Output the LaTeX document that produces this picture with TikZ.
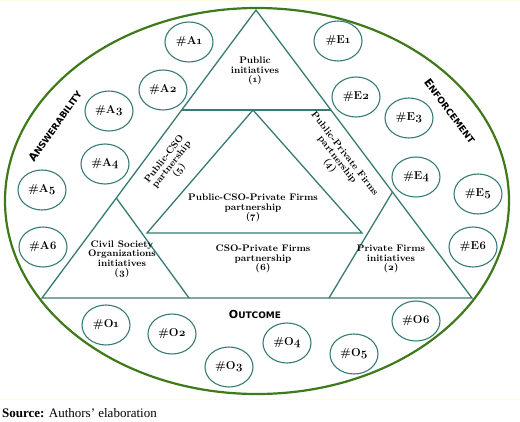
\documentclass[tikz,border=0pt]{standalone}
\usepackage{fontspec}
\setmainfont{Latin Modern Roman}[Numbers=OldStyle]
\newfontfamily\sourcefont{Liberation Serif}
\newfontfamily\dimfont{DejaVu Sans}
\usepackage{tikz}
\definecolor{ringgreen}{RGB}{62,122,26}
\definecolor{tealline}{RGB}{56,122,116}
\definecolor{paleband}{RGB}{255,252,222}
\usetikzlibrary{shapes,arrows,positioning}
\tikzset{item/.style={ellipse, draw=tealline, line width=1.1pt, fill=white, minimum width=48pt, minimum height=40pt, inner sep=0pt,
 font=\fontsize{11.5}{11.5}\selectfont\bfseries}}
\tikzset{region/.style={align=center, inner sep=0pt, font=\fontsize{9.5}{9.3}\selectfont\bfseries}}
\tikzset{dimension/.style={inner sep=0pt, font=\dimfont\bfseries}}
\tikzset{part/.style={draw=tealline, line width=1.3pt}}
\newcommand{\capfirst}[1]{{\fontsize{11}{11}\selectfont #1}}
\newcommand{\caprest}[1]{{\fontsize{9}{9}\selectfont #1}}

\begin{document}
\begin{tikzpicture}[x=1pt,y=-1pt]
        \useasboundingbox (0,0) rectangle (520,421);
        \fill[white] (0,0) rectangle (520,421);
        \draw[paleband, line width=1pt] (0,0.5) -- (520,0.5);
        \draw[paleband, line width=1pt] (0,399) -- (520,399);

        % outer ring
        \draw[ringgreen, line width=2.2pt] (257,201) ellipse [x radius=252, y radius=193];

        % triangle and its parts
        \coordinate (top) at (256,10);
        \coordinate (left) at (42,298);
        \coordinate (right) at (472,298);
        \coordinate (cutL) at (181.7,110);
        \coordinate (cutR) at (331,110);
        \coordinate (apexL) at (116.3,198);
        \coordinate (baseL) at (189,298);
        \coordinate (apexR) at (392.5,192);
        \coordinate (baseR) at (329,298);
        \coordinate (in1) at (253,110);
        \coordinate (in2) at (147,233);
        \coordinate (in3) at (362,233);

        \path[part] (top) -- (left) -- (right) -- cycle;
        \path[part] (cutL) -- (cutR);
        \path[part] (apexL) -- (baseL);
        \path[part] (apexR) -- (baseR);
        \path[part] (in1) -- (in2) -- (in3) -- cycle;

        \node[region] (pub) at (255,71) {Public\\initiatives\\(1)};
        \node[region, rotate=52] (pubcso) at (172,165) {Public-CSO\\partnership\\(5)};
        \node[region, rotate=-52] (pubpriv) at (337,160) {Public-Private Firms\\partnership\\(4)};
        \node[region] (all) at (253,208) {Public-CSO-Private Firms\\partnership\\(7)};
        \node[region] (csopriv) at (263,259) {CSO-Private Firms\\partnership\\(6)};
        \node[region] (cso) at (122,259.5) {Civil Society\\Organizations\\initiatives\\(3)};
        \node[region] (priv) at (391,259) {Private Firms\\initiatives\\(2)};

        % dimensions
        \node[dimension, rotate=55] (answ) at (55,126) {\capfirst{A}\caprest{NSWERABILITY}};
        \node[dimension, rotate=-53] (enf) at (450,111) {\capfirst{E}\caprest{NFORCEMENT}};
        \node[dimension] (outc) at (255,314) {\capfirst{O}\caprest{UTCOME}};

        % answerability items
        \node[item] (a1) at (189,42) {\#A1};
        \node[item] (a2) at (163,90) {\#A2};
        \node[item] (a3) at (109,111) {\#A3};
        \node[item] (a4) at (105,164) {\#A4};
        \node[item] (a5) at (42,190) {\#A5};
        \node[item] (a6) at (43,247) {\#A6};

        % enforcement items
        \node[item] (e1) at (338,41) {\#E1};
        \node[item] (e2) at (356,97) {\#E2};
        \node[item] (e3) at (409,118) {\#E3};
        \node[item] (e4) at (416,177) {\#E4};
        \node[item] (e5) at (478,194) {\#E5};
        \node[item] (e6) at (473,247) {\#E6};

        % outcome items
        \node[item] (o1) at (106,325) {\#O1};
        \node[item] (o2) at (172,334) {\#O2};
        \node[item] (o3) at (229,367) {\#O3};
        \node[item] (o4) at (287,343) {\#O4};
        \node[item] (o5) at (354,354) {\#O5};
        \node[item] (o6) at (416,321) {\#O6};

        \node[anchor=base west, inner sep=0pt, font=\sourcefont\fontsize{13}{13}\selectfont] (source) at (2,417.5)
         {\textbf{Source:} Authors’ elaboration};
     \end{tikzpicture}
\end{document}
